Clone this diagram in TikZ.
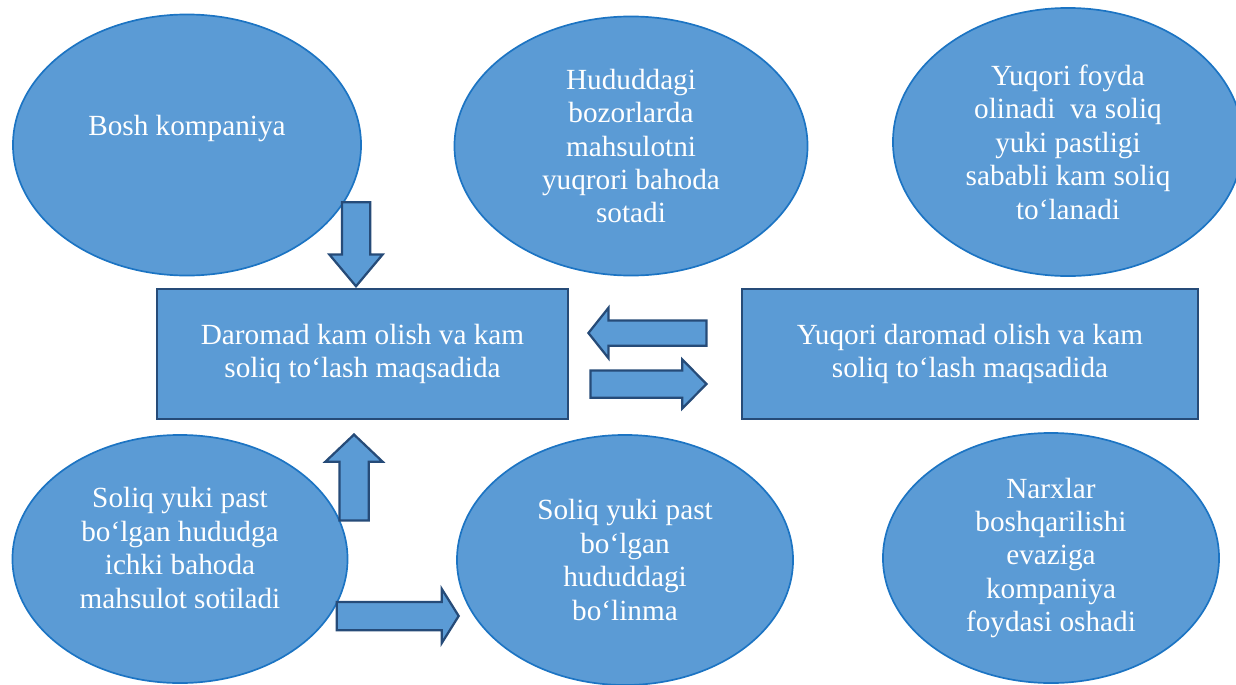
\documentclass[tikz,border=0pt]{standalone}
\usepackage{fontspec}
\setmainfont{Liberation Serif}
\usetikzlibrary{shapes.geometric,shapes.arrows,positioning}

\definecolor{boxfill}{HTML}{5B9BD5}
\definecolor{ovalline}{HTML}{1C74C3}
\definecolor{boxline}{HTML}{264B78}

\begin{document}
\begin{tikzpicture}[
    x=0.025cm, y=-0.025cm,
    txt/.style={text=white, align=center, font=\fontsize{20.8}{23.8}\selectfont},
    oval/.style={ellipse, draw=ovalline, line width=1.2pt, fill=boxfill, inner sep=0pt, txt},
    box/.style={rectangle, draw=boxline, line width=1.8pt, fill=boxfill, minimum height=3.25cm, txt},
    blockarrow/.style={single arrow, draw=boxline, line width=1.6pt, fill=boxfill, inner sep=0pt, minimum width=0pt, anchor=tip}
]
    \useasboundingbox (0,0) rectangle (1236,684);

    % ovals
    \node[oval, minimum width=8.7cm, minimum height=6.525cm,
          label={[txt, yshift=0.4cm]center:Bosh kompaniya}] (bosh) at (187,145) {};
    \node[oval, minimum width=8.825cm, minimum height=6.475cm] (hudud) at (631,146)
        {Hududdagi\\bozorlarda\\mahsulotni\\yuqrori bahoda\\sotadi};
    \node[oval, minimum width=8.75cm, minimum height=6.7cm] (foyda) at (1068,142)
        {Yuqori foyda\\olinadi \ va soliq\\yuki pastligi\\sababli kam soliq\\to‘lanadi};
    \node[oval, minimum width=8.375cm, minimum height=6.2cm,
          label={[txt, yshift=0.275cm]center:{Soliq yuki past\\bo‘lgan hududga\\ichki bahoda\\mahsulot sotiladi}}] (sotish) at (180,559) {};
    \node[oval, minimum width=8.4cm, minimum height=6.25cm] (bolinma) at (625,560)
        {Soliq yuki past\\bo‘lgan\\hududdagi\\bo‘linma};
    \node[oval, minimum width=8.4cm, minimum height=6.25cm] (narx) at (1051,558)
        {Narxlar\\boshqarilishi\\evaziga\\kompaniya\\foydasi oshadi};

    % boxes
    \node[box, minimum width=10.275cm] (kam) at (362.5,354)
        {Daromad kam olish va kam\\soliq to‘lash maqsadida};
    \node[box, minimum width=11.4cm] (yuqori) at (970,354)
        {Yuqori daromad olish va kam\\soliq to‘lash maqsadida};

    % block arrows
    \node[blockarrow, shape border rotate=270, minimum height=2.1cm, inner xsep=0.325cm,
          single arrow head extend=0.3125cm, single arrow tip angle=80] (down) at (356,288) {};
    \node[blockarrow, shape border rotate=90, minimum height=2.15cm, inner xsep=0.3375cm,
          single arrow head extend=0.35cm, single arrow tip angle=93] (up) at (354,433) {};
    \node[blockarrow, shape border rotate=180, minimum height=2.95cm, inner ysep=0.2875cm,
          single arrow head extend=0.3125cm, single arrow tip angle=103] (left) at (587,333) {};
    \node[blockarrow, minimum height=2.9cm, inner ysep=0.3125cm,
          single arrow head extend=0.275cm, single arrow tip angle=91] (right) at (708,384) {};
    \node[blockarrow, minimum height=3.05cm, inner ysep=0.325cm,
          single arrow head extend=0.325cm, single arrow tip angle=116] (across) at (460,616) {};
\end{tikzpicture}
\end{document}
